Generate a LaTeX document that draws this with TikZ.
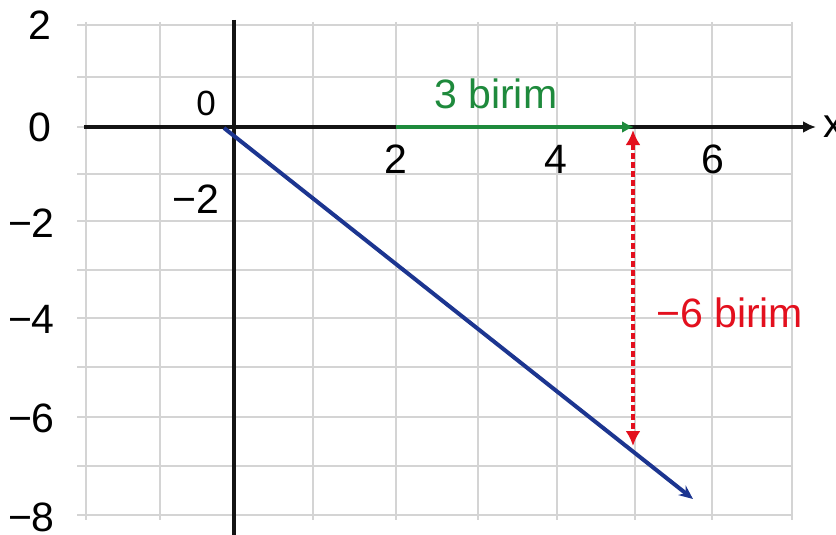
\documentclass[tikz,border=0pt]{standalone}
\usepackage{fontspec}
\setmainfont{Liberation Sans}
\usetikzlibrary{arrows.meta}
\definecolor{gridgray}{HTML}{D4D4D4}
\definecolor{mygreen}{HTML}{1E8A3C}
\definecolor{myred}{HTML}{E3101E}
\definecolor{myblue}{HTML}{1C3590}
\definecolor{axisblack}{HTML}{141414}
\begin{document}
\begin{tikzpicture}[x=1pt,y=-1pt,
  lbl/.style={font=\fontsize{41}{48}\selectfont, inner sep=0pt},
  smalllbl/.style={font=\fontsize{35}{42}\selectfont, inner sep=0pt},
  gridln/.style={draw=gridgray, line width=2.5pt},
  axisln/.style={draw=axisblack, line width=4pt},
  greenarrow/.style={draw=mygreen, line width=4pt, -{Latex[length=12pt,width=12pt]}},
  redarrow/.style={draw=myred, line width=3.5pt, dash pattern=on 6pt off 3pt, {Latex[length=15pt,width=15pt]}-{Latex[length=15pt,width=15pt]}},
  bluearrow/.style={draw=myblue, line width=4pt, -{Stealth[length=14pt,width=12pt]}},
]
\useasboundingbox (0,0) rectangle (836,535);
\clip (0,0) rectangle (836,535);
\fill[white] (0,0) rectangle (836,535);
% grid
\foreach \x in {86,160,234,313,396,478,557,635,712,792}
  \draw[gridln] (\x,22) -- (\x,520);
\foreach \y in {25,77,127,174,221,270,318,367,417,466,515}
  \draw[gridln] (77,\y) -- (792,\y);
% axes
\coordinate (xs) at (84,127);
\coordinate (xe) at (816,127);
\coordinate (ys) at (234,20);
\coordinate (ye) at (234,535);
\draw[axisln, -{Latex[length=13pt,width=12pt]}] (xs) -- (xe);
\draw[axisln] (ys) -- (ye);
% green arrow
\coordinate (g1) at (396,127);
\coordinate (g2) at (634,127);
\draw[greenarrow] (g1) -- (g2);
% blue line
\coordinate (b1) at (224,128);
\coordinate (b2) at (693,499);
\draw[bluearrow] (b1) -- (b2);
% red arrow
\coordinate (r1) at (633,130);
\coordinate (r2) at (633,446);
\draw[redarrow] (r1) -- (r2);
% y labels
\node[lbl, anchor=base east] (yl2) at (52,40) {2};
\node[lbl, anchor=base east] (yl0) at (52,142) {0};
\node[lbl, anchor=base east] (ylm2) at (55,237) {−2};
\node[lbl, anchor=base east] (ylm4) at (55,333) {−4};
\node[lbl, anchor=base east] (ylm6) at (55,432) {−6};
\node[lbl, anchor=base east] (ylm8) at (55,531) {−8};
% x labels
\node[lbl, anchor=base] (xl2) at (396,173) {2};
\node[lbl, anchor=base] (xl4) at (556,173) {4};
\node[lbl, anchor=base] (xl6) at (713,173) {6};
\node[lbl, anchor=base west] (xname) at (823,137) {x};
% extra labels near origin
\node[smalllbl, anchor=base] (orig) at (206,115) {0};
\node[lbl, anchor=base east] (ylaxm2) at (219,213) {−2};
% unit labels
\node[lbl, anchor=base west, text=mygreen] (g3) at (434,108) {3 birim};
\node[lbl, anchor=base west, text=myred] (r6) at (656,327) {−6 birim};
\end{tikzpicture}
\end{document}
